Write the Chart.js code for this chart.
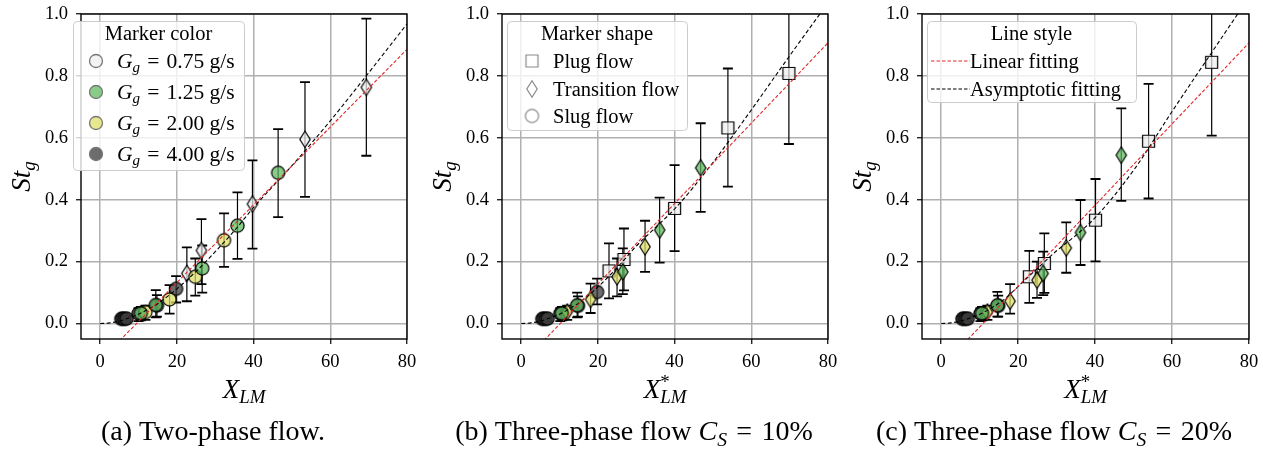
<!DOCTYPE html>
<html>
<head>
<meta charset="utf-8">
<script src="https://cdn.jsdelivr.net/npm/chart.js@4.4.0/dist/chart.umd.min.js"></script>
<style>
  body { margin: 0; background: #fff; }
  #wrap { position: relative; width: 1263px; height: 451px; }
  canvas { position: absolute; top: 0; }
</style>
</head>
<body>
<div id="wrap">
  <canvas id="cA" width="421" height="451" style="left:0px"></canvas>
  <canvas id="cB" width="421" height="451" style="left:421px"></canvas>
  <canvas id="cC" width="422" height="451" style="left:841px"></canvas>
</div>
<script>
// ---- data ----
const xTicks = [0, 20, 40, 60, 80];
const yTicks = [0, 0.2, 0.4, 0.6, 0.8, 1.0];
const gasRates = ['0.75', '1.25', '2.00', '4.00'];
const regimes = ['Plug flow', 'Transition flow', 'Slug flow'];

// (a) two-phase
const aX     = [69.4, 53.4, 39.7, 26.4, 22.6,  46.4, 35.8, 26.6, 14.5, 10.6,  32.3, 24.8, 18.1, 11.8,  19.8, 14.8, 10.0, 5.5, 5.9, 6.4, 6.9];
const aY     = [0.763, 0.595, 0.386, 0.236, 0.162,  0.487, 0.316, 0.178, 0.060, 0.033,  0.269, 0.151, 0.078, 0.037,  0.112, 0.058, 0.032, 0.015, 0.016, 0.015, 0.016];
const aLo    = [0.542, 0.409, 0.242, 0.127, 0.072,  0.344, 0.209, 0.100, 0.020, 0.010,  0.183, 0.090, 0.032, 0.012,  0.068, 0.022, 0.008, 0.006, 0.006, 0.006, 0.006];
const aHi    = [0.985, 0.780, 0.527, 0.337, 0.246,  0.628, 0.424, 0.252, 0.108, 0.054,  0.356, 0.210, 0.124, 0.058,  0.153, 0.092, 0.050, 0.024, 0.025, 0.024, 0.025];
const aGroup = [0, 0, 0, 0, 0,  1, 1, 1, 1, 1,  2, 2, 2, 2,  3, 3, 3, 3, 3, 3, 3];
const aShape = ['d', 'd', 'd', 'd', 'd',  'o', 'o', 'o', 'o', 'o',  'o', 'o', 'o', 'o',  'o', 'o', 'o', 'o', 'o', 'o', 'o'];
const aLinX = [0, 80];
const aLinY = [-0.119, 0.886];
const aAsyX = [0, 2.5, 5, 7.5, 10, 12.5, 15, 17.5, 20, 25, 30, 35, 40, 50, 60, 70, 80];
const aAsyY = [0, 0.002, 0.008, 0.018, 0.030, 0.046, 0.064, 0.087, 0.112, 0.168, 0.232, 0.300, 0.375, 0.510, 0.655, 0.810, 0.968];

// (b) three-phase, Cs = 10%
const bX     = [69.8, 53.9, 40.0, 26.8, 22.9,  46.8, 36.1, 26.5, 14.6, 10.6,  32.3, 25.0, 18.1, 12.0,  19.8, 14.8, 10.2, 5.5, 5.9, 6.4, 6.9];
const bY     = [0.808, 0.632, 0.372, 0.207, 0.170,  0.503, 0.302, 0.167, 0.059, 0.033,  0.248, 0.151, 0.078, 0.037,  0.102, 0.057, 0.032, 0.015, 0.016, 0.015, 0.016];
const bLo    = [0.580, 0.442, 0.234, 0.107, 0.081,  0.361, 0.197, 0.095, 0.020, 0.010,  0.167, 0.088, 0.034, 0.012,  0.062, 0.022, 0.008, 0.006, 0.006, 0.006, 0.006];
const bHi    = [1.036, 0.824, 0.512, 0.307, 0.259,  0.647, 0.407, 0.243, 0.100, 0.054,  0.332, 0.210, 0.129, 0.058,  0.145, 0.088, 0.050, 0.024, 0.025, 0.024, 0.025];
const bGroup = [0, 0, 0, 0, 0,  1, 1, 1, 1, 1,  2, 2, 2, 2,  3, 3, 3, 3, 3, 3, 3];
const bShape = ['s', 's', 's', 's', 's',  'd', 'd', 'd', 'o', 'o',  'd', 'd', 'd', 'd',  'o', 'o', 'o', 'o', 'o', 'o', 'o'];
const bLinX = [0, 80];
const bLinY = [-0.132, 0.907];
const bAsyX = [0, 2.5, 5, 7.5, 10, 12.5, 15, 17.5, 20, 25, 30, 35, 40, 50, 60, 70, 80];
const bAsyY = [0, 0.002, 0.008, 0.018, 0.030, 0.047, 0.066, 0.090, 0.118, 0.180, 0.250, 0.310, 0.370, 0.520, 0.690, 0.865, 1.036];

// (c) three-phase, Cs = 20%
const cX     = [70.3, 53.9, 40.1, 26.8, 22.9,  46.8, 36.2, 26.5, 14.6, 10.6,  32.5, 24.9, 17.9, 12.0,  14.8, 10.2, 5.5, 5.9, 6.4, 6.9];
const cY     = [0.844, 0.589, 0.334, 0.194, 0.151,  0.544, 0.294, 0.162, 0.059, 0.033,  0.244, 0.140, 0.072, 0.037,  0.057, 0.032, 0.015, 0.016, 0.015, 0.016];
const cLo    = [0.607, 0.404, 0.201, 0.099, 0.067,  0.396, 0.189, 0.092, 0.022, 0.010,  0.164, 0.083, 0.032, 0.012,  0.022, 0.008, 0.006, 0.006, 0.006, 0.006];
const cHi    = [1.081, 0.774, 0.467, 0.291, 0.235,  0.695, 0.399, 0.232, 0.102, 0.054,  0.327, 0.200, 0.127, 0.058,  0.090, 0.050, 0.024, 0.025, 0.024, 0.025];
const cGroup = [0, 0, 0, 0, 0,  1, 1, 1, 1, 1,  2, 2, 2, 2,  3, 3, 3, 3, 3, 3];
const cShape = ['s', 's', 's', 's', 's',  'd', 'd', 'd', 'o', 'o',  'd', 'd', 'd', 'd',  'o', 'o', 'o', 'o', 'o', 'o'];
const cLinX = [0, 80];
const cLinY = [-0.142, 0.907];
const cAsyX = [0, 2.5, 5, 7.5, 10, 12.5, 15, 17.5, 20, 25, 30, 35, 40, 50, 60, 70, 80];
const cAsyY = [0, 0.002, 0.008, 0.018, 0.030, 0.046, 0.066, 0.090, 0.120, 0.178, 0.235, 0.285, 0.342, 0.495, 0.685, 0.870, 1.054];

// ---- styling ----
const FONT = '"Liberation Serif", "Times New Roman", serif';
const groupFill = ['rgba(238,238,238,0.72)', 'rgba(90,185,90,0.72)', 'rgba(222,222,100,0.72)', 'rgba(60,60,60,0.75)'];
const drawOrder = [5, 2, 3, 4];   // lower = drawn later (on top)
const EQ = '\u2004=\u2004';

function markerCanvas(shape, fill, stroke, lw) {
  const c = document.createElement('canvas');
  const w = shape === 'd' ? 14 : 17, h = shape === 'd' ? 20 : 17;
  c.width = w; c.height = h;
  const g = c.getContext('2d');
  g.beginPath();
  if (shape === 'o') g.arc(w / 2, h / 2, 6.6, 0, Math.PI * 2);
  else if (shape === 's') g.rect(w / 2 - 6, h / 2 - 6, 12, 12);
  else {
    g.moveTo(w / 2, h / 2 - 8.2); g.lineTo(w / 2 + 5.2, h / 2);
    g.lineTo(w / 2, h / 2 + 8.2); g.lineTo(w / 2 - 5.2, h / 2); g.closePath();
  }
  g.fillStyle = fill; g.fill();
  g.lineWidth = lw; g.strokeStyle = stroke; g.stroke();
  return c;
}
const markers = {};
['o', 'd', 's'].forEach(s => { markers[s] = groupFill.map(f => markerCanvas(s, f, '#000', 1.2)); });

// rich text: segments {t, it, sub, sup}
function segFont(size, it) { return (it ? 'italic ' : '') + size + 'px ' + FONT; }
function richWidth(ctx, segs, size) {
  let w = 0;
  segs.forEach(s => {
    if (s.sub || s.sup) {
      ctx.font = segFont(size * 0.7, s.it);
      w += Math.max(ctx.measureText(s.sub || '').width, ctx.measureText(s.sup || '').width);
    } else {
      ctx.font = segFont(size, s.it);
      w += ctx.measureText(s.t).width;
    }
  });
  return w;
}
function drawRich(ctx, segs, x, y, size, align) {
  ctx.save();
  ctx.fillStyle = '#000';
  ctx.textBaseline = 'alphabetic';
  ctx.textAlign = 'left';
  let cx = x;
  if (align === 'center') cx = x - richWidth(ctx, segs, size) / 2;
  segs.forEach(s => {
    if (s.sub || s.sup) {
      ctx.font = segFont(size * 0.7, s.it);
      let w = 0;
      if (s.sub) { ctx.fillText(s.sub, cx, y + size * 0.2); w = ctx.measureText(s.sub).width; }
      if (s.sup) { ctx.font = segFont(size * 0.7, false); ctx.fillText(s.sup, cx, y - size * 0.38); w = Math.max(w, ctx.measureText(s.sup).width); }
      cx += w;
    } else {
      ctx.font = segFont(size, s.it);
      ctx.fillText(s.t, cx, y);
      cx += ctx.measureText(s.t).width;
    }
  });
  ctx.restore();
}

function legendBox(ctx, x0, y0, x1, y1) {
  ctx.save();
  ctx.beginPath();
  ctx.roundRect(x0 + 0.5, y0 + 0.5, x1 - x0, y1 - y0, 4);
  ctx.fillStyle = 'rgba(255,255,255,0.8)';
  ctx.fill();
  ctx.strokeStyle = '#cccccc';
  ctx.lineWidth = 1;
  ctx.stroke();
  ctx.restore();
}

const legendA = ctx => {
  legendBox(ctx, 73, 21, 244, 170);
  drawRich(ctx, [{ t: 'Marker color' }], 158.5, 40, 20.5, 'center');
  const ys = [61, 92, 123, 154];
  gasRates.forEach((r, i) => {
    ctx.save();
    ctx.beginPath();
    ctx.arc(96, ys[i], 6.5, 0, Math.PI * 2);
    ctx.fillStyle = groupFill[i]; ctx.fill();
    ctx.strokeStyle = '#777'; ctx.lineWidth = 1.3; ctx.stroke();
    ctx.restore();
    drawRich(ctx, [{ t: 'G', it: true }, { sub: 'g', it: true }, { t: EQ + r + ' g/s' }], 117, ys[i] + 6.5, 21.5, 'left');
  });
};
const legendB = ctx => {
  legendBox(ctx, 86, 21, 266, 130);
  drawRich(ctx, [{ t: 'Marker shape' }], 176, 40, 20.5, 'center');
  const ys = [61, 89, 116];
  ['s', 'd', 'o'].forEach((s, i) => {
    const m = markerCanvas(s, 'rgba(255,255,255,0.9)', '#888', 1.2);
    ctx.drawImage(m, 111 - m.width / 2, ys[i] - m.height / 2);
    drawRich(ctx, [{ t: regimes[i] }], 132, ys[i] + 6.5, 20.5, 'left');
  });
};
const legendC = ctx => {
  legendBox(ctx, 86, 21, 295, 102);
  drawRich(ctx, [{ t: 'Line style' }], 190.5, 40, 20.5, 'center');
  const ys = [61, 89];
  const cols = ['#e02828', '#000'];
  ['Linear fitting', 'Asymptotic fitting'].forEach((t, i) => {
    ctx.save();
    ctx.beginPath();
    ctx.setLineDash([3.5, 2]);
    ctx.moveTo(90, ys[i]); ctx.lineTo(129, ys[i]);
    ctx.strokeStyle = cols[i]; ctx.lineWidth = 1.1; ctx.stroke();
    ctx.restore();
    drawRich(ctx, [{ t: t }], 129, ys[i] + 6.5, 20.5, 'left');
  });
};

function makePanel(id, p) {
  const datasets = [];
  datasets.push({
    label: 'Linear fitting', showLine: true, pointRadius: 0, borderColor: '#e02828',
    borderWidth: 1.1, borderDash: [3.5, 2], order: 0,
    data: p.linX.map((v, i) => ({ x: v, y: p.linY[i] }))
  });
  datasets.push({
    label: 'Asymptotic fitting', showLine: true, pointRadius: 0, borderColor: '#000',
    borderWidth: 1.1, borderDash: [4, 2.5], order: 1, cubicInterpolationMode: 'monotone',
    data: p.asyX.map((v, i) => ({ x: v, y: p.asyY[i] }))
  });
  for (let g = 0; g < 4; g++) {
    const pts = [];
    p.x.forEach((v, i) => { if (p.group[i] === g) pts.push({ x: v, y: p.y[i], k: i }); });
    datasets.push({
      label: gasRates[g], data: pts, order: drawOrder[g], pointRadius: 6,
      pointStyle: c => markers[p.shape[c.raw.k]][g]
    });
  }

  const errorBars = {
    id: 'errorBars',
    beforeDatasetsDraw(chart) {
      const ctx = chart.ctx, xs = chart.scales.x, ys = chart.scales.y, a = chart.chartArea;
      ctx.save();
      ctx.beginPath();
      ctx.rect(a.left, a.top, a.right - a.left, a.bottom - a.top);
      ctx.clip();
      ctx.strokeStyle = '#000';
      p.x.forEach((v, i) => {
        const px = xs.getPixelForValue(v);
        const lo = ys.getPixelForValue(p.lo[i]), hi = ys.getPixelForValue(p.hi[i]);
        ctx.lineWidth = 1.2;
        ctx.beginPath(); ctx.moveTo(px, lo); ctx.lineTo(px, hi); ctx.stroke();
        ctx.lineWidth = 1.8;
        ctx.beginPath();
        ctx.moveTo(px - 5, lo); ctx.lineTo(px + 5, lo);
        ctx.moveTo(px - 5, hi); ctx.lineTo(px + 5, hi);
        ctx.stroke();
      });
      ctx.restore();
    }
  };

  const decorations = {
    id: 'decorations',
    afterDraw(chart) {
      const ctx = chart.ctx, a = chart.chartArea;
      ctx.save();
      ctx.strokeStyle = '#000';
      ctx.lineWidth = 1.4;
      ctx.strokeRect(a.left, a.top, a.right - a.left, a.bottom - a.top);
      ctx.restore();
      // y title
      ctx.save();
      ctx.translate(30, (a.top + a.bottom) / 2);
      ctx.rotate(-Math.PI / 2);
      drawRich(ctx, [{ t: 'St', it: true }, { sub: 'g', it: true }], 0, 0, 27, 'center');
      ctx.restore();
      // x title
      drawRich(ctx, p.star
        ? [{ t: 'X', it: true }, { sub: 'LM', sup: '*', it: true }]
        : [{ t: 'X', it: true }, { sub: 'LM', it: true }],
        (a.left + a.right) / 2, 398, 27, 'center');
      drawRich(ctx, p.caption, 213, 440, 28, 'center');
      p.legend(ctx);
    }
  };

  new Chart(document.getElementById(id), {
    type: 'scatter',
    data: { datasets },
    options: {
      responsive: false, animation: false, events: [],
      devicePixelRatio: 1,
      layout: { padding: { top: 14, right: 14, left: 0, bottom: 0 } },
      plugins: { legend: { display: false }, tooltip: { enabled: false } },
      scales: {
        x: {
          type: 'linear', min: -5, max: 80,
          afterBuildTicks: s => { s.ticks = xTicks.map(v => ({ value: v })); },
          afterFit: s => { s.height = 112; s.paddingLeft = 0; s.paddingRight = 0; },
          grid: { color: '#b0b0b0', lineWidth: 1.5, tickColor: '#000', tickLength: 5, tickWidth: 1.2 },
          border: { display: false },
          ticks: { color: '#000', font: { family: FONT, size: 18.5 }, padding: 7, maxRotation: 0 }
        },
        y: {
          type: 'linear', min: -0.05, max: 1.0,
          afterBuildTicks: s => { s.ticks = yTicks.map(v => ({ value: v })); },
          afterFit: s => { s.width = 81; s.paddingTop = 0; s.paddingBottom = 0; },
          grid: { color: '#b0b0b0', lineWidth: 1.5, tickColor: '#000', tickLength: 5, tickWidth: 1.2 },
          border: { display: false },
          ticks: { color: '#000', font: { family: FONT, size: 18.5 }, padding: 8, callback: v => v.toFixed(1) }
        }
      }
    },
    plugins: [errorBars, decorations]
  });
}

makePanel('cA', {
  x: aX, y: aY, lo: aLo, hi: aHi, group: aGroup, shape: aShape,
  linX: aLinX, linY: aLinY, asyX: aAsyX, asyY: aAsyY, star: false,
  caption: [{ t: '(a) Two-phase flow.' }], legend: legendA
});
makePanel('cB', {
  x: bX, y: bY, lo: bLo, hi: bHi, group: bGroup, shape: bShape,
  linX: bLinX, linY: bLinY, asyX: bAsyX, asyY: bAsyY, star: true,
  caption: [{ t: '(b) Three-phase flow ' }, { t: 'C', it: true }, { sub: 'S', it: true }, { t: EQ + '10%' }], legend: legendB
});
makePanel('cC', {
  x: cX, y: cY, lo: cLo, hi: cHi, group: cGroup, shape: cShape,
  linX: cLinX, linY: cLinY, asyX: cAsyX, asyY: cAsyY, star: true,
  caption: [{ t: '(c) Three-phase flow ' }, { t: 'C', it: true }, { sub: 'S', it: true }, { t: EQ + '20%' }], legend: legendC
});
</script>
</body>
</html>
